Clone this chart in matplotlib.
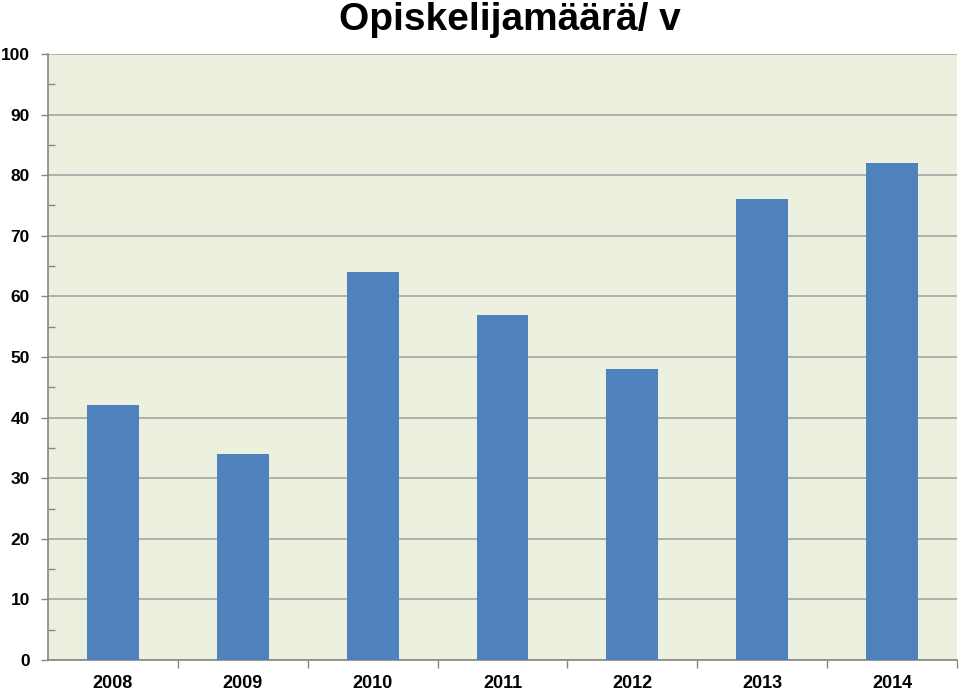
import matplotlib
matplotlib.use("Agg")
import matplotlib.pyplot as plt
from matplotlib.ticker import MultipleLocator

years = ["2008", "2009", "2010", "2011", "2012", "2013", "2014"]
values = [42, 34, 64, 57, 48, 76, 82]
title = "Opiskelijamäärä/ v"

plt.rcParams['font.family'] = ['Liberation Sans', 'DejaVu Sans']

fig = plt.figure(figsize=(9.6, 6.93), dpi=100)
ax = fig.add_axes([48/960, 1-660/693, (957-48)/960, (660-54)/693])
ax.set_facecolor('#EBF1DE')

x = list(range(len(years)))
ax.bar(x, values, width=0.4, color='#4F81BD', zorder=3)
ax.set_xlim(-0.5, len(years)-0.5)
ax.set_ylim(0, 100)

ax.yaxis.set_major_locator(MultipleLocator(10))
ax.yaxis.set_minor_locator(MultipleLocator(5))
ax.grid(axis='y', which='major', color='#A6A6A6', linewidth=1.2, zorder=1)

ax.set_xticks(x)
ax.set_xticklabels(years, fontsize=13, fontweight='bold')
ax.tick_params(axis='x', which='major', length=0, pad=11)
ax.set_xticks([i + 0.5 for i in x], minor=True)
ax.tick_params(axis='x', which='minor', length=6, color='#868686', width=1)
ax.tick_params(axis='y', which='major', length=5, color='#868686', width=1, labelsize=12.5, pad=8)
ax.tick_params(axis='y', which='minor', direction='in', length=5, color='#868686', width=1)
for lab in ax.get_yticklabels():
    lab.set_fontweight('bold')

for s in ['top', 'right']:
    ax.spines[s].set_visible(False)
for s in ['left', 'bottom']:
    ax.spines[s].set_color('#868686')
    ax.spines[s].set_linewidth(1.2)

fig.text(510/960, 1-30/693, title, ha='center', va='baseline', fontsize=28, fontweight='bold')

fig.savefig('out.png', dpi=100)
